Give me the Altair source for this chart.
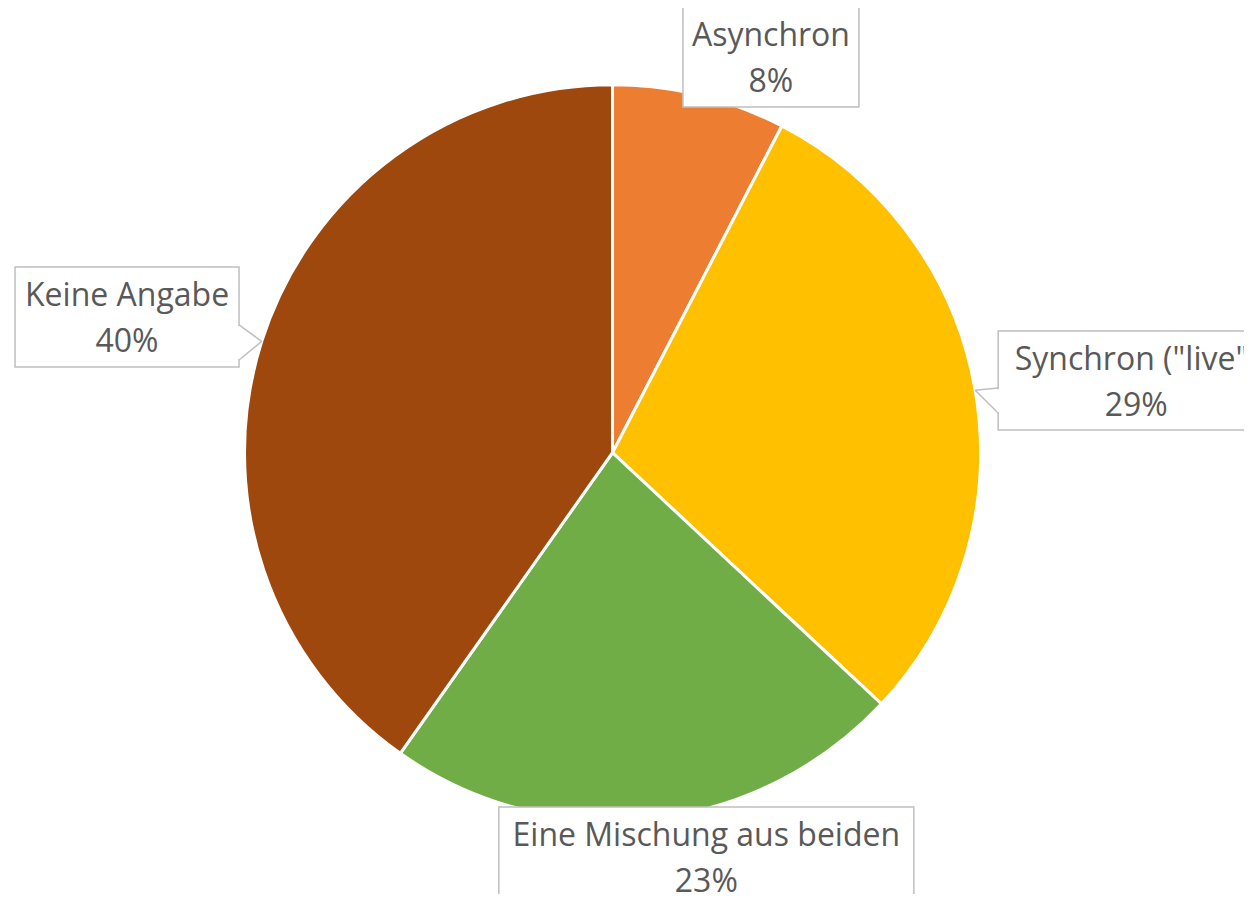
import altair as alt
import pandas as pd

# ---- data ----
categories = ["Asynchron", 'Synchron ("live")', "Eine Mischung aus beiden", "Keine Angabe"]
counts = [7, 27, 21, 37]
colors = ["#ED7D31", "#FFC000", "#70AD47", "#9E480E"]

# ---- layout of the callout boxes (offset of box centre from the slice's edge midpoint) ----
box_dx = [71.3, 161.0, 56.2, -134.7]
box_dy = [-38.2, -9.6, 38.2, -24.4]
box_w = [176, 276, 415, 224]
box_h = [100, 99, 100, 100]
ptr_side = [0, -1, 0, 1]        # 0 = no pointer, -1 pointer on left edge, 1 on right edge
ptr_p1 = [0, 7.5, 0, 8]
ptr_p2 = [0, 32.5, 0, 43]

W, H = 1236, 886
CX, CY, R = 604.5, 444.7, 368

df = pd.DataFrame({
    "idx": list(range(len(categories))),
    "category": categories,
    "n": counts,
    "dx": box_dx, "dy": box_dy, "w": box_w, "h": box_h,
    "side": ptr_side, "p1": ptr_p1, "p2": ptr_p2,
})

base = alt.Chart(df)

pie = base.mark_arc(outerRadius=R, stroke="white", strokeWidth=3).encode(
    theta=alt.Theta("n:Q", stack=True),
    color=alt.Color("category:N", scale=alt.Scale(domain=categories, range=colors), legend=None),
    order=alt.Order("idx:Q"),
    x=alt.value(CX),
    y=alt.value(CY),
)

geo = base.transform_joinaggregate(
    total="sum(n)"
).transform_window(
    cum="sum(n)", sort=[alt.SortField("idx")], frame=[None, 0]
).transform_calculate(
    mid="(datum.cum - datum.n/2) / datum.total * 2 * PI",
    ax=f"{CX} + {R} * sin(datum.mid)",
    ay=f"{CY} - {R} * cos(datum.mid)",
    bx="datum.ax + datum.dx",
    by="datum.ay + datum.dy",
    x1="datum.bx - datum.w/2",
    x2="datum.bx + datum.w/2",
    y1="datum.by - datum.h/2",
    y2="datum.by + datum.h/2",
    ex="datum.bx + datum.side * datum.w/2",
    py1="datum.by + datum.p1",
    py2="datum.by + datum.p2",
    cy1="datum.by + datum.p1 + 1.2",
    cy2="datum.by + datum.p2 - 1.2",
    ty="datum.by - 11",
    label="datum.category + '\\n' + format(datum.n / datum.total, '.0%')",
)

boxes = geo.mark_rect(fill="white", stroke="#BFBFBF", strokeWidth=1.5).encode(
    x=alt.X("x1:Q", scale=None), x2="x2:Q",
    y=alt.Y("y1:Q", scale=None), y2="y2:Q",
)

ptr = geo.transform_filter("datum.side != 0")
ptr_up = ptr.mark_rule(color="#BFBFBF", strokeWidth=1.5).encode(
    x=alt.X("ex:Q", scale=None), x2="ax:Q",
    y=alt.Y("py1:Q", scale=None), y2="ay:Q",
)
ptr_dn = ptr.mark_rule(color="#BFBFBF", strokeWidth=1.5).encode(
    x=alt.X("ex:Q", scale=None), x2="ax:Q",
    y=alt.Y("py2:Q", scale=None), y2="ay:Q",
)
ptr_cover = ptr.mark_rule(color="white", strokeWidth=2.5).encode(
    x=alt.X("ex:Q", scale=None), x2="ex:Q",
    y=alt.Y("cy1:Q", scale=None), y2="cy2:Q",
)

texts = geo.mark_text(
    font="Open Sans", fontSize=32, color="#595959", align="center",
    baseline="alphabetic", lineBreak="\n", lineHeight=46,
).encode(
    x=alt.X("bx:Q", scale=None),
    y=alt.Y("ty:Q", scale=None),
    text="label:N",
)

chart = alt.layer(pie, boxes, ptr_up, ptr_dn, ptr_cover, texts).properties(
    width=W, height=H,
    autosize=alt.AutoSizeParams(type="none"),
    padding=0,
).configure_view(stroke=None)

chart.save("out.html", embed_options={"renderer": "svg", "actions": False})
